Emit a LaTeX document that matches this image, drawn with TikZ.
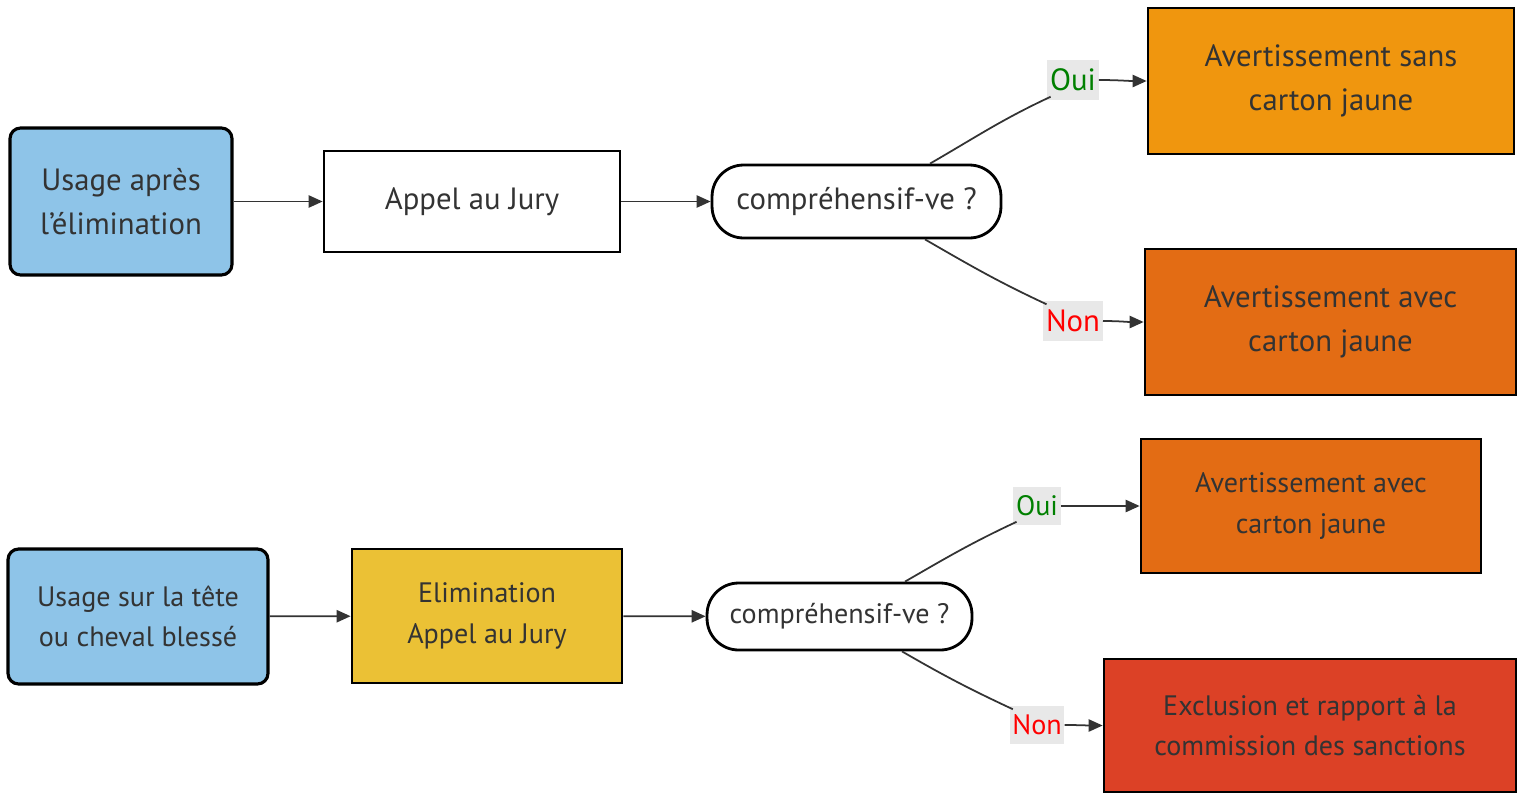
\documentclass[tikz,border=0pt]{standalone}
\usepackage{fontspec}
\setmainfont{PT Sans}
\usetikzlibrary{arrows.meta}
\definecolor{txt}{HTML}{333333}
\definecolor{startblue}{HTML}{8EC4E8}
\definecolor{warnorange}{HTML}{F0960E}
\definecolor{cardorange}{HTML}{E36C14}
\definecolor{elimyellow}{HTML}{EBC135}
\definecolor{exclred}{HTML}{DC4126}
\definecolor{labelgray}{HTML}{E8E8E8}
\tikzstyle{start}=[draw=black, fill=startblue, rounded corners=6pt, line width=1.8pt, text=txt, align=center]
\tikzstyle{action}=[draw=black, line width=1.6pt, text=txt, align=center]
\tikzstyle{question}=[draw=black, line width=1.6pt, text=txt, rounded corners=18pt, align=center]
\tikzstyle{answer}=[fill=labelgray, inner xsep=1.5pt, inner ysep=5pt]
\tikzstyle{link}=[draw=txt, line width=1pt, -{Triangle[length=8pt, width=7pt]}]
\tikzstyle{line}=[draw=txt, line width=1pt]

\begin{document}
\begin{tikzpicture}[x=0.02cm, y=-0.02cm]
\useasboundingbox (0,0) rectangle (1517,795);
% first case
\begin{scope}[font=\fontsize{17.5}{25}\selectfont]
\node[start, minimum width=4.44cm, minimum height=2.94cm] at (121, 201.5) (use1) {Usage après\\l'élimination};
\node[action, minimum width=5.92cm, minimum height=2.02cm] at (472, 201.5) (jury1) {Appel au Jury};
\node[question, minimum width=5.78cm, minimum height=1.46cm] at (856.5, 201.5) (ask1) {compréhensif-ve ?};
\node[action, fill=warnorange, minimum width=7.32cm, minimum height=2.92cm] at (1331, 81) (yes1) {Avertissement sans\\carton jaune};
\node[action, fill=cardorange, minimum width=7.42cm, minimum height=2.92cm] at (1330.5, 322) (no1) {Avertissement avec\\carton jaune};
\node[answer, text={rgb,255:red,0;green,128;blue,0}] at (1073, 80) (oui1) {Oui};
\node[answer, text=red] at (1073, 321) (non1) {Non};
\end{scope}
\draw[link] (use1) -- (jury1);
\draw[link] (jury1) -- (ask1);
\draw[line] ([xshift=1.47cm]ask1.north) to[out=30, in=205] ([xshift=2pt, yshift=2pt]oui1.south west);
\draw[link] (oui1.east) to[out=0, in=180] (yes1.west);
\draw[line] ([xshift=1.37cm]ask1.south) to[out=-30, in=155] ([xshift=2pt, yshift=-2pt]non1.north west);
\draw[link] (non1.east) to[out=0, in=180] (no1.west);
% second case
\begin{scope}[font=\fontsize{16}{23}\selectfont]
\node[start, minimum width=5.2cm, minimum height=2.7cm] at (138, 616.5) (use2) {Usage sur la tête\\ou cheval blessé};
\node[action, fill=elimyellow, minimum width=5.4cm, minimum height=2.68cm] at (487, 616) (elim2) {Elimination\\Appel au Jury};
\node[question, minimum width=5.3cm, minimum height=1.34cm] at (839.5, 616.5) (ask2) {compréhensif-ve ?};
\node[action, fill=cardorange, minimum width=6.8cm, minimum height=2.68cm] at (1311, 506) (yes2) {Avertissement avec\\carton jaune};
\node[action, fill=exclred, minimum width=8.24cm, minimum height=2.66cm] at (1310, 725.5) (no2) {Exclusion et rapport à la\\commission des sanctions};
\node[answer, text={rgb,255:red,0;green,128;blue,0}] at (1037, 506) (oui2) {Oui};
\node[answer, text=red] at (1037, 725) (non2) {Non};
\end{scope}
\draw[link] (use2) -- (elim2);
\draw[link] (elim2) -- (ask2);
\draw[line] ([xshift=1.31cm]ask2.north) to[out=30, in=205] ([xshift=2pt, yshift=2pt]oui2.south west);
\draw[link] (oui2.east) to[out=0, in=180] (yes2.west);
\draw[line] ([xshift=1.25cm]ask2.south) to[out=-30, in=155] ([xshift=2pt, yshift=-2pt]non2.north west);
\draw[link] (non2.east) to[out=0, in=180] (no2.west);
\end{tikzpicture}
\end{document}
